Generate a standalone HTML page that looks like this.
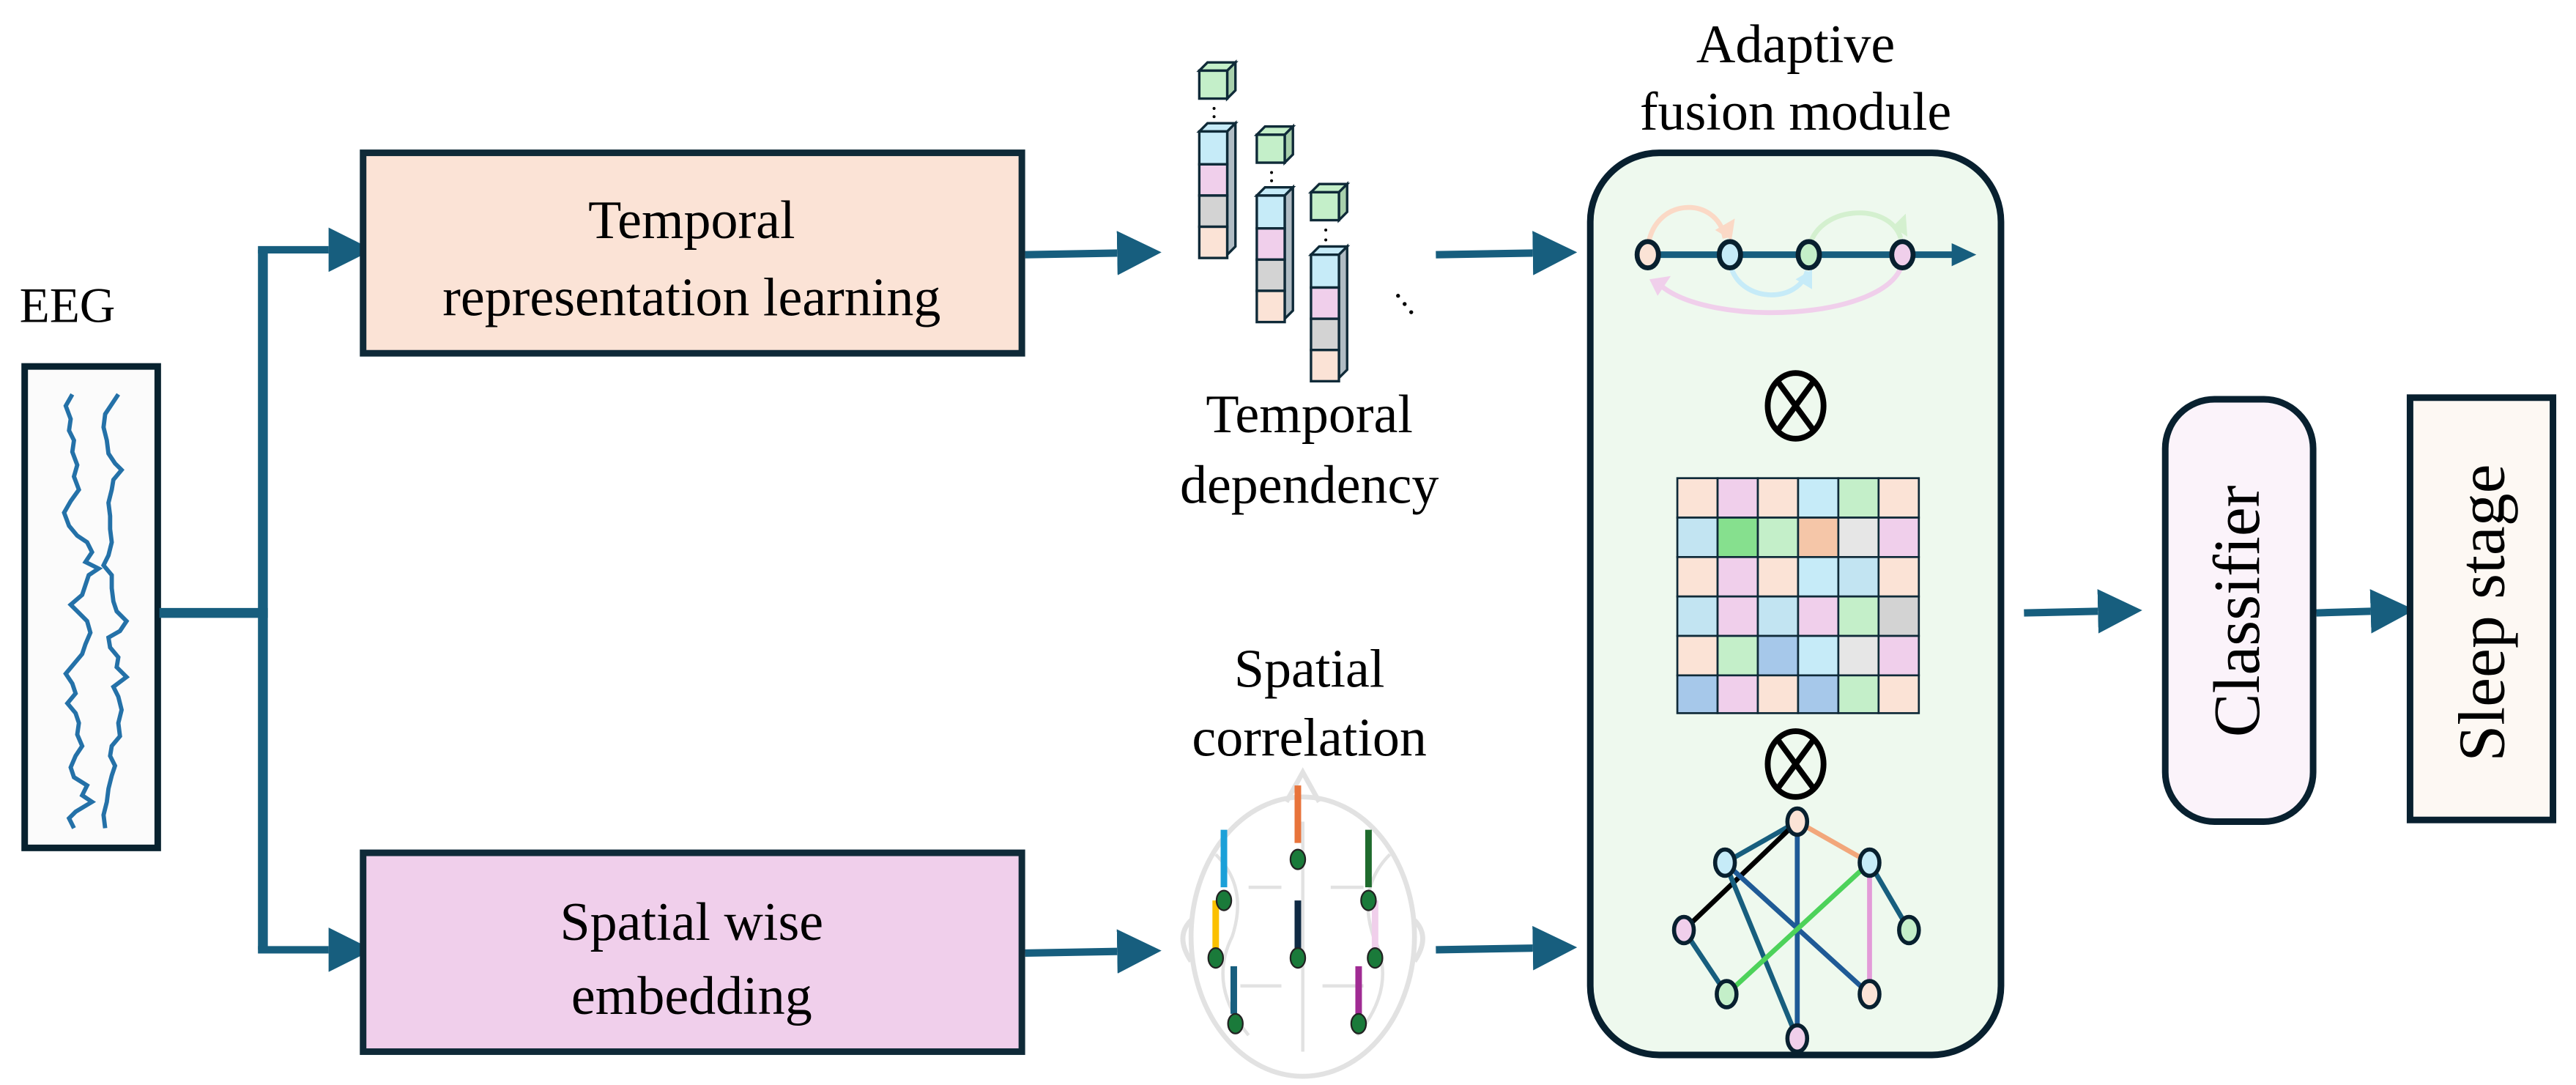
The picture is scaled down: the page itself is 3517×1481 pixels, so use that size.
<!DOCTYPE html>
<html><head><meta charset="utf-8"><style>
html,body{margin:0;padding:0;background:#fff;}
svg{display:block;}
text{font-family:"Liberation Serif","Times New Roman",serif;fill:#000;}
</style></head><body>
<svg width="3517" height="1481" viewBox="0 0 1568 660.3" xmlns="http://www.w3.org/2000/svg">
<defs>
<marker id="ah" markerWidth="6" markerHeight="6" refX="0" refY="3" orient="auto" markerUnits="strokeWidth"><path d="M0,0 L6,3 L0,6 z" fill="#175e7e"/></marker>
</defs>
<rect width="1568" height="660.3" fill="#fff"/>
<!-- EEG -->
<text x="41" y="196" font-size="30" text-anchor="middle">EEG</text>
<rect x="15" y="223" width="81" height="293" fill="#fbfbfb" stroke="#08222f" stroke-width="4"/>
<polyline fill="none" stroke="#2471a8" stroke-width="2.6" points="44,240 40,247 43,255 42,262 45,268 44,275 47,283 45,290 48,298 43,305 39,312 42,320 47,326 53,330 56,336 52,342 60,346 54,350 52,356 50,362 43,368 48,373 53,378 55,385 52,392 50,398 45,404 40,410 44,416 46,422 41,428 46,434 48,440 47,447 50,454 46,460 43,467 45,473 53,478 50,484 56,488 46,494 42,498 45,504"/>
<polyline fill="none" stroke="#2471a8" stroke-width="2.6" points="72,240 68,246 64,252 63,260 65,268 66,276 70,282 74,286 69,292 68,298 66,306 67,314 67,322 68,330 66,338 63,344 68,350 68,358 69,366 71,372 77,378 73,384 66,388 67,394 72,400 71,406 77,412 69,418 72,424 74,432 72,440 73,448 68,454 67,460 70,466 68,472 66,480 65,488 63,496 64,504"/>
<!-- trunk -->
<g stroke="#175e7e" stroke-width="6" fill="none">
<line x1="97" y1="373" x2="163" y2="373"/>
<line x1="160" y1="152" x2="160" y2="578"/>
<line x1="157" y1="152" x2="200" y2="152" marker-end="url(#ah)" stroke-width="4.5"/>
<line x1="157" y1="578" x2="200" y2="578" marker-end="url(#ah)" stroke-width="4.5"/>
<line x1="624" y1="155" x2="680" y2="154" marker-end="url(#ah)" stroke-width="4.5"/>
<line x1="624" y1="580" x2="680" y2="579" marker-end="url(#ah)" stroke-width="4.5"/>
<line x1="874" y1="155" x2="933" y2="154" marker-end="url(#ah)" stroke-width="4.5"/>
<line x1="874" y1="578" x2="933" y2="577" marker-end="url(#ah)" stroke-width="4.5"/>
<line x1="1232" y1="373" x2="1277" y2="372" marker-end="url(#ah)" stroke-width="4.5"/>
<line x1="1410" y1="373" x2="1443" y2="372" marker-end="url(#ah)" stroke-width="4.5"/>
</g>
<!-- boxes -->
<rect x="221" y="93" width="401" height="122" fill="#fbe3d6" stroke="#0f2a38" stroke-width="4"/>
<text x="421" y="145" font-size="33" text-anchor="middle">Temporal</text>
<text x="421" y="192" font-size="33" text-anchor="middle">representation learning</text>
<rect x="221" y="519" width="401" height="121" fill="#f0cfeb" stroke="#0f2a38" stroke-width="4"/>
<text x="421" y="572" font-size="33" text-anchor="middle">Spatial wise</text>
<text x="421" y="617" font-size="33" text-anchor="middle">embedding</text>
<!-- cubes -->
<g stroke="#0f2a38" stroke-width="1.5">
<path d="M730,43 l5,-5 h17 l-5,5 z" fill="#c4efc9"/><path d="M747,43 l5,-5 v17 l-5,5 z" fill="#a8d0ac"/><rect x="730" y="43" width="17" height="17" fill="#c4efc9"/>
<path d="M730,80 l5,-5 h17 l-5,5 z" fill="#c6ebf8"/><path d="M747,80 l5,-5 v75 l-5,5 z" fill="#b0bcc4"/>
<rect x="730" y="80" width="17" height="20" fill="#c6ebf8"/><rect x="730" y="100" width="17" height="19" fill="#f0cfeb"/><rect x="730" y="119" width="17" height="19" fill="#d3d3d3"/><rect x="730" y="138" width="17" height="19" fill="#fbe3d6"/>
<path d="M765,82 l5,-5 h17 l-5,5 z" fill="#c4efc9"/><path d="M782,82 l5,-5 v17 l-5,5 z" fill="#a8d0ac"/><rect x="765" y="82" width="17" height="17" fill="#c4efc9"/>
<path d="M765,119 l5,-5 h17 l-5,5 z" fill="#c6ebf8"/><path d="M782,119 l5,-5 v75 l-5,5 z" fill="#b0bcc4"/>
<rect x="765" y="119" width="17" height="20" fill="#c6ebf8"/><rect x="765" y="139" width="17" height="19" fill="#f0cfeb"/><rect x="765" y="158" width="17" height="19" fill="#d3d3d3"/><rect x="765" y="177" width="17" height="19" fill="#fbe3d6"/>
<path d="M798,117 l5,-5 h17 l-5,5 z" fill="#c4efc9"/><path d="M815,117 l5,-5 v17 l-5,5 z" fill="#a8d0ac"/><rect x="798" y="117" width="17" height="17" fill="#c4efc9"/>
<path d="M798,155 l5,-5 h17 l-5,5 z" fill="#c6ebf8"/><path d="M815,155 l5,-5 v75 l-5,5 z" fill="#b0bcc4"/>
<rect x="798" y="155" width="17" height="20" fill="#c6ebf8"/><rect x="798" y="175" width="17" height="19" fill="#f0cfeb"/><rect x="798" y="194" width="17" height="19" fill="#d3d3d3"/><rect x="798" y="213" width="17" height="19" fill="#fbe3d6"/>
</g>
<g fill="#000"><circle cx="739" cy="66" r="0.9"/><circle cx="739" cy="71" r="0.9"/><circle cx="774" cy="105" r="0.9"/><circle cx="774" cy="110" r="0.9"/><circle cx="807" cy="140" r="0.9"/><circle cx="807" cy="146" r="0.9"/>
<circle cx="851" cy="180" r="1.2"/><circle cx="855" cy="185" r="1.2"/><circle cx="859" cy="190" r="1.2"/></g>
<text x="797" y="263" font-size="33" text-anchor="middle">Temporal</text>
<text x="797" y="306" font-size="33" text-anchor="middle">dependency</text>
<text x="797" y="418" font-size="33" text-anchor="middle">Spatial</text>
<text x="797" y="460" font-size="33" text-anchor="middle">correlation</text>
<!-- brain -->
<g fill="none" stroke="#e2e2e2" stroke-width="3">
<ellipse cx="793" cy="570" rx="68" ry="85"/>
<path d="M783,488 l10,-18 l10,18"/>
<path d="M725,560 q-10,10 0,25"/><path d="M861,560 q10,10 0,25"/>
<path d="M793,500 v140" stroke-width="2"/>
<path d="M740,520 q20,20 10,50 q-15,30 10,60 M846,520 q-20,20 -10,50 q15,30 -10,60 M760,540 h20 M810,540 h20 M755,600 h25 M805,600 h25" stroke-width="2"/>
</g>
<g stroke-width="4">
<line x1="790" y1="478" x2="790" y2="513" stroke="#e8743b"/>
<line x1="745" y1="505" x2="745" y2="540" stroke="#1aa0d8"/>
<line x1="833" y1="505" x2="833" y2="540" stroke="#1f6b2d"/>
<line x1="740" y1="548" x2="740" y2="577" stroke="#fbc000"/>
<line x1="790" y1="548" x2="790" y2="577" stroke="#0f2a44"/>
<line x1="837" y1="548" x2="837" y2="577" stroke="#f0cfeb"/>
<line x1="751" y1="588" x2="751" y2="617" stroke="#175e7e"/>
<line x1="827" y1="588" x2="827" y2="617" stroke="#a02b93"/>
</g>
<g fill="#1a7a3a" stroke="#222" stroke-width="1">
<ellipse cx="790" cy="523" rx="4.5" ry="6"/><ellipse cx="745" cy="548" rx="4.5" ry="6"/><ellipse cx="833" cy="548" rx="4.5" ry="6"/>
<ellipse cx="740" cy="583" rx="4.5" ry="6"/><ellipse cx="790" cy="583" rx="4.5" ry="6"/><ellipse cx="837" cy="583" rx="4.5" ry="6"/>
<ellipse cx="752" cy="623" rx="4.5" ry="6"/><ellipse cx="827" cy="623" rx="4.5" ry="6"/>
</g>
<!-- adaptive fusion -->
<text x="1093" y="38" font-size="33" text-anchor="middle">Adaptive</text>
<text x="1093" y="79" font-size="33" text-anchor="middle">fusion module</text>
<rect x="968" y="93" width="250" height="549" rx="42" fill="#eef9ee" stroke="#08202f" stroke-width="4"/>
<g fill="none" stroke-width="3">
<path d="M1003,152 C1005,120 1045,118 1050,145" stroke="#fbd9c6"/>
<path d="M1101,152 C1105,125 1150,122 1157,145" stroke="#d4f0cf"/>
<path d="M1053,160 C1058,185 1095,185 1100,165" stroke="#c6ebf8"/>
<path d="M1158,160 C1150,195 1040,200 1010,173" stroke="#f0cfeb"/>
</g>
<path d="M1044,140 l12,-7 l-2,13 z" fill="#fbd9c6"/>
<path d="M1152,138 l8,-8 l1,14 z" fill="#d4f0cf"/>
<path d="M1093,170 l10,-6 l0,12 z" fill="#c6ebf8"/>
<path d="M1004,170 l13,-2 l-8,12 z" fill="#f0cfeb"/>
<line x1="1003" y1="155" x2="1190" y2="155" stroke="#175e7e" stroke-width="4"/>
<path d="M1188,148 l15,7 l-15,7 z" fill="#175e7e"/>
<g stroke="#08202f" stroke-width="3">
<ellipse cx="1003" cy="155" rx="6.5" ry="8" fill="#fbe3d6"/><ellipse cx="1053" cy="155" rx="6.5" ry="8" fill="#c6ebf8"/>
<ellipse cx="1101" cy="155" rx="6.5" ry="8" fill="#c4efc9"/><ellipse cx="1158" cy="155" rx="6.5" ry="8" fill="#f0cfeb"/>
</g>
<g fill="none" stroke="#000" stroke-width="3.5">
<ellipse cx="1093" cy="247" rx="17" ry="20"/><line x1="1082" y1="232" x2="1104" y2="262"/><line x1="1104" y1="232" x2="1082" y2="262"/>
<ellipse cx="1093" cy="465" rx="17" ry="20"/><line x1="1082" y1="450" x2="1104" y2="480"/><line x1="1104" y1="450" x2="1082" y2="480"/>
</g>
<g stroke="#0f2a38" stroke-width="1.2">
<rect x="1021" y="291" width="24.5" height="24" fill="#fbe3d6"/><rect x="1045.5" y="291" width="24.5" height="24" fill="#f0cfeb"/><rect x="1070" y="291" width="24.5" height="24" fill="#fbe3d6"/><rect x="1094.5" y="291" width="24.5" height="24" fill="#c6ebf8"/><rect x="1119" y="291" width="24.5" height="24" fill="#c4efc9"/><rect x="1143.5" y="291" width="24.5" height="24" fill="#fbe3d6"/>
<rect x="1021" y="315" width="24.5" height="24" fill="#c2e4f2"/><rect x="1045.5" y="315" width="24.5" height="24" fill="#86e08e"/><rect x="1070" y="315" width="24.5" height="24" fill="#c4efc9"/><rect x="1094.5" y="315" width="24.5" height="24" fill="#f5c6a8"/><rect x="1119" y="315" width="24.5" height="24" fill="#e6e6e6"/><rect x="1143.5" y="315" width="24.5" height="24" fill="#f0cfeb"/>
<rect x="1021" y="339" width="24.5" height="24" fill="#fbe3d6"/><rect x="1045.5" y="339" width="24.5" height="24" fill="#f0cfeb"/><rect x="1070" y="339" width="24.5" height="24" fill="#fbe3d6"/><rect x="1094.5" y="339" width="24.5" height="24" fill="#c6ebf8"/><rect x="1119" y="339" width="24.5" height="24" fill="#c2e4f2"/><rect x="1143.5" y="339" width="24.5" height="24" fill="#fbe3d6"/>
<rect x="1021" y="363" width="24.5" height="24" fill="#c2e4f2"/><rect x="1045.5" y="363" width="24.5" height="24" fill="#f0cfeb"/><rect x="1070" y="363" width="24.5" height="24" fill="#c2e4f2"/><rect x="1094.5" y="363" width="24.5" height="24" fill="#f0cfeb"/><rect x="1119" y="363" width="24.5" height="24" fill="#c4efc9"/><rect x="1143.5" y="363" width="24.5" height="24" fill="#d3d3d3"/>
<rect x="1021" y="387" width="24.5" height="24" fill="#fbe3d6"/><rect x="1045.5" y="387" width="24.5" height="24" fill="#c4efc9"/><rect x="1070" y="387" width="24.5" height="24" fill="#a6c8ea"/><rect x="1094.5" y="387" width="24.5" height="24" fill="#c6ebf8"/><rect x="1119" y="387" width="24.5" height="24" fill="#e6e6e6"/><rect x="1143.5" y="387" width="24.5" height="24" fill="#f0cfeb"/>
<rect x="1021" y="411" width="24.5" height="23" fill="#a6c8ea"/><rect x="1045.5" y="411" width="24.5" height="23" fill="#f0cfeb"/><rect x="1070" y="411" width="24.5" height="23" fill="#fbe3d6"/><rect x="1094.5" y="411" width="24.5" height="23" fill="#a6c8ea"/><rect x="1119" y="411" width="24.5" height="23" fill="#c4efc9"/><rect x="1143.5" y="411" width="24.5" height="23" fill="#fbe3d6"/>
</g>
<g stroke-width="3">
<line x1="1094" y1="500" x2="1050" y2="525" stroke="#175e7e"/>
<line x1="1094" y1="500" x2="1025" y2="566" stroke="#000"/>
<line x1="1094" y1="500" x2="1094" y2="632" stroke="#1f5a96"/>
<line x1="1094" y1="500" x2="1138" y2="525" stroke="#f2a77b"/>
<line x1="1050" y1="525" x2="1094" y2="632" stroke="#175e7e"/>
<line x1="1050" y1="525" x2="1138" y2="605" stroke="#1f5a96"/>
<line x1="1138" y1="525" x2="1051" y2="605" stroke="#4dd25a"/>
<line x1="1138" y1="525" x2="1138" y2="605" stroke="#e39bd8"/>
<line x1="1138" y1="525" x2="1162" y2="566" stroke="#175e7e"/>
<line x1="1025" y1="566" x2="1051" y2="605" stroke="#175e7e"/>
</g>
<g stroke="#08202f" stroke-width="2.5">
<ellipse cx="1094" cy="500" rx="6" ry="8" fill="#fbe3d6"/>
<ellipse cx="1050" cy="525" rx="6" ry="8" fill="#c6ebf8"/>
<ellipse cx="1138" cy="525" rx="6" ry="8" fill="#c6ebf8"/>
<ellipse cx="1025" cy="566" rx="6" ry="8" fill="#f0cfeb"/>
<ellipse cx="1162" cy="566" rx="6" ry="8" fill="#c4efc9"/>
<ellipse cx="1051" cy="605" rx="6" ry="8" fill="#c4efc9"/>
<ellipse cx="1138" cy="605" rx="6" ry="8" fill="#fbe3d6"/>
<ellipse cx="1094" cy="632" rx="6" ry="8" fill="#f0cfeb"/>
</g>
<rect x="1318" y="243" width="90" height="257" rx="30" fill="#fbf3fa" stroke="#08202f" stroke-width="4"/>
<text transform="translate(1375,372) rotate(-90)" font-size="40" text-anchor="middle">Classifier</text>
<rect x="1467" y="242" width="87" height="257" fill="#fdf8f3" stroke="#08202f" stroke-width="4"/>
<text transform="translate(1524,373) rotate(-90)" font-size="40" text-anchor="middle">Sleep stage</text>
</svg>
</body></html>
